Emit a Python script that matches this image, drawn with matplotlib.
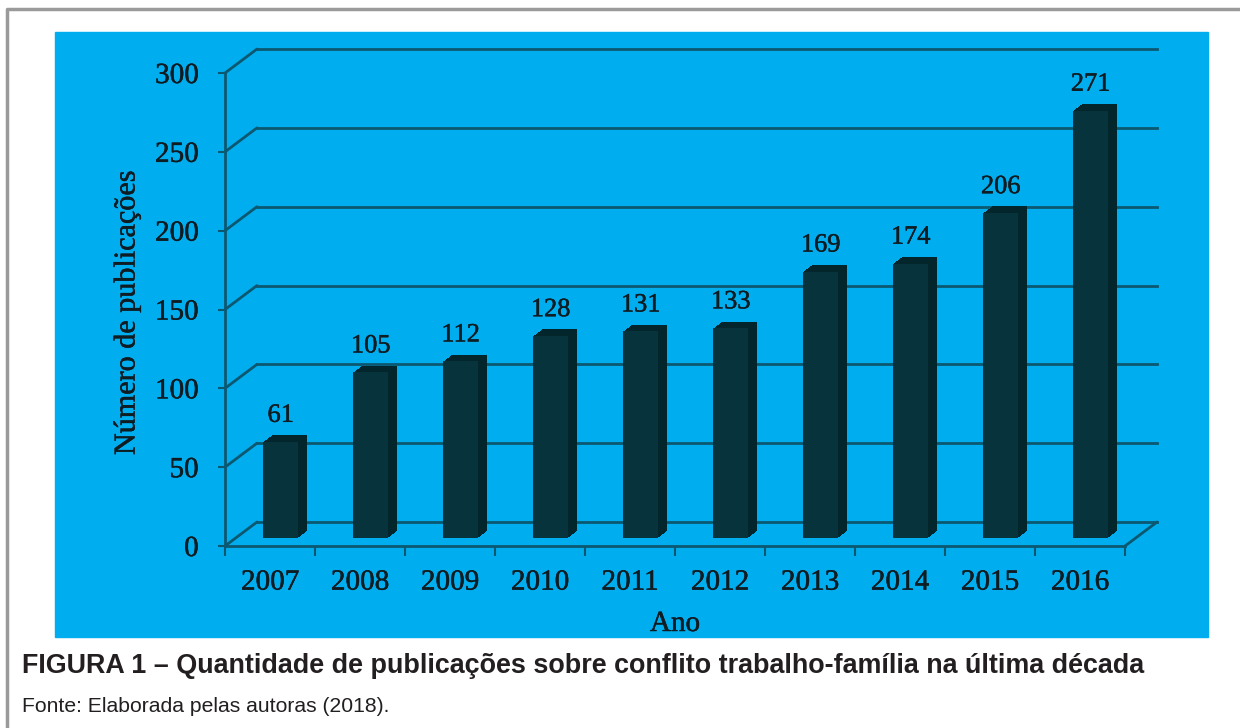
import numpy as np
import matplotlib
matplotlib.use("Agg")
import matplotlib.pyplot as plt
import matplotlib.transforms as mtransforms
import matplotlib.patheffects as pe
from matplotlib.patches import Rectangle
from matplotlib.lines import Line2D

# Data
anos = ["2007", "2008", "2009", "2010", "2011", "2012", "2013", "2014", "2015", "2016"]
publicacoes = [61, 105, 112, 128, 131, 133, 169, 174, 206, 271]
y_ticks = [0, 50, 100, 150, 200, 250, 300]

titulo = "FIGURA 1 – Quantidade de publicações sobre conflito trabalho-família na última década"
fonte = "Fonte: Elaborada pelas autoras (2018)."

# Colors
PANEL = "#00AEEF"
GRID = "#0b5870"
FRONT = "#06333c"
SIDE = "#03252c"
TEXT = "#0f1c22"
SERIF = "Liberation Serif"
heavy = [pe.withStroke(linewidth=0.35, foreground=TEXT)]

W, H = 1240, 728
fig = plt.figure(figsize=(W / 100, H / 100), dpi=100)

# cyan panel + page border
fig.patches.append(Rectangle((55 / W, 1 - 637 / H), (1208 - 55) / W, (637 - 32) / H,
                             transform=fig.transFigure, color=PANEL, zorder=-5))
fig.add_artist(Line2D([7 / W, 7 / W, 1], [0, 1 - 9 / H, 1 - 9 / H],
                      transform=fig.transFigure, color="#9a9a9a", lw=2.5))

ax = fig.add_axes([225 / W, 1 - 546 / H, 900 / W, 473 / H])
ax.set_facecolor("none")
ax.set_xlim(0, len(anos))
ax.set_ylim(0, 300)


def depth(fx, fy=None):
    # shift in pixels towards the back wall
    if fy is None:
        fy = fx * 0.75
    return ax.transData + mtransforms.ScaledTranslation(fx / 100, fy / 100, fig.dpi_scale_trans)


back = depth(32, 24)

# back wall grid + floor
for y in y_ticks:
    ax.plot([0, len(anos)], [y, y], transform=back, color=GRID, lw=2, clip_on=False, zorder=1)
    ax.annotate("", xy=(0, y), xycoords=back, xytext=(0, y), textcoords="data",
                arrowprops=dict(arrowstyle="-", color=GRID, lw=2, shrinkA=0, shrinkB=0), zorder=1)
ax.annotate("", xy=(len(anos), 0), xycoords=back, xytext=(len(anos), 0), textcoords="data",
            arrowprops=dict(arrowstyle="-", color=GRID, lw=2, shrinkA=0, shrinkB=0), zorder=1)

# 3D-ish bars: stacked copies from back to front
pos = np.arange(len(anos)) + 0.5
bw = 0.39
for k in range(9, 0, -1):
    ax.bar(pos, publicacoes, bw, color=SIDE, transform=depth(10.7 + k, 8 + 0.75 * k),
           clip_on=False, zorder=3)
ax.bar(pos, publicacoes, bw, color=FRONT, transform=depth(10.7, 8), clip_on=False, zorder=4)

for p, v in zip(pos, publicacoes):
    ax.annotate(str(v), xy=(p, v), xycoords=depth(10.7, 8), xytext=(0, 14.4),
                textcoords="offset points", ha="center", va="baseline",
                fontsize=19, family=SERIF, color=TEXT, zorder=5, path_effects=heavy)

# front axes
for s in ["top", "right"]:
    ax.spines[s].set_visible(False)
for s in ["left", "bottom"]:
    ax.spines[s].set_color(GRID)
    ax.spines[s].set_linewidth(2)

ax.set_yticks(y_ticks)
ax.set_yticklabels([str(t) for t in y_ticks], family=SERIF, fontsize=21, color=TEXT)
ax.tick_params(axis="y", length=5, width=1.5, color=GRID, pad=14)

ax.set_xticks(np.arange(len(anos) + 1))
ax.set_xticklabels([])
ax.tick_params(axis="x", which="major", length=7, width=1.5, color=GRID)
ax.set_xticks(pos, minor=True)
ax.set_xticklabels(anos, minor=True, family=SERIF, fontsize=21, color=TEXT)
ax.tick_params(axis="x", which="minor", length=0, pad=17)
for lbl in ax.get_yticklabels() + ax.get_xticklabels(minor=True):
    lbl.set_path_effects(heavy)

fig.text(127 / W, 1 - 313 / H, "Número de publicações", rotation=90, ha="center", va="center",
         fontsize=21.7, family=SERIF, color=TEXT, path_effects=heavy)
fig.text(675 / W, 1 - 624 / H, "Ano", ha="center", va="center",
         fontsize=21, family=SERIF, color=TEXT, path_effects=heavy)

fig.text(22 / W, 1 - 673 / H, titulo, ha="left", va="baseline", fontsize=19.4,
         weight="bold", family="Liberation Sans", color="#231f20")
fig.text(22 / W, 1 - 712 / H, fonte, ha="left", va="baseline", fontsize=15.2,
         family="Liberation Sans", color="#231f20")

fig.savefig("out.png", dpi=100)
